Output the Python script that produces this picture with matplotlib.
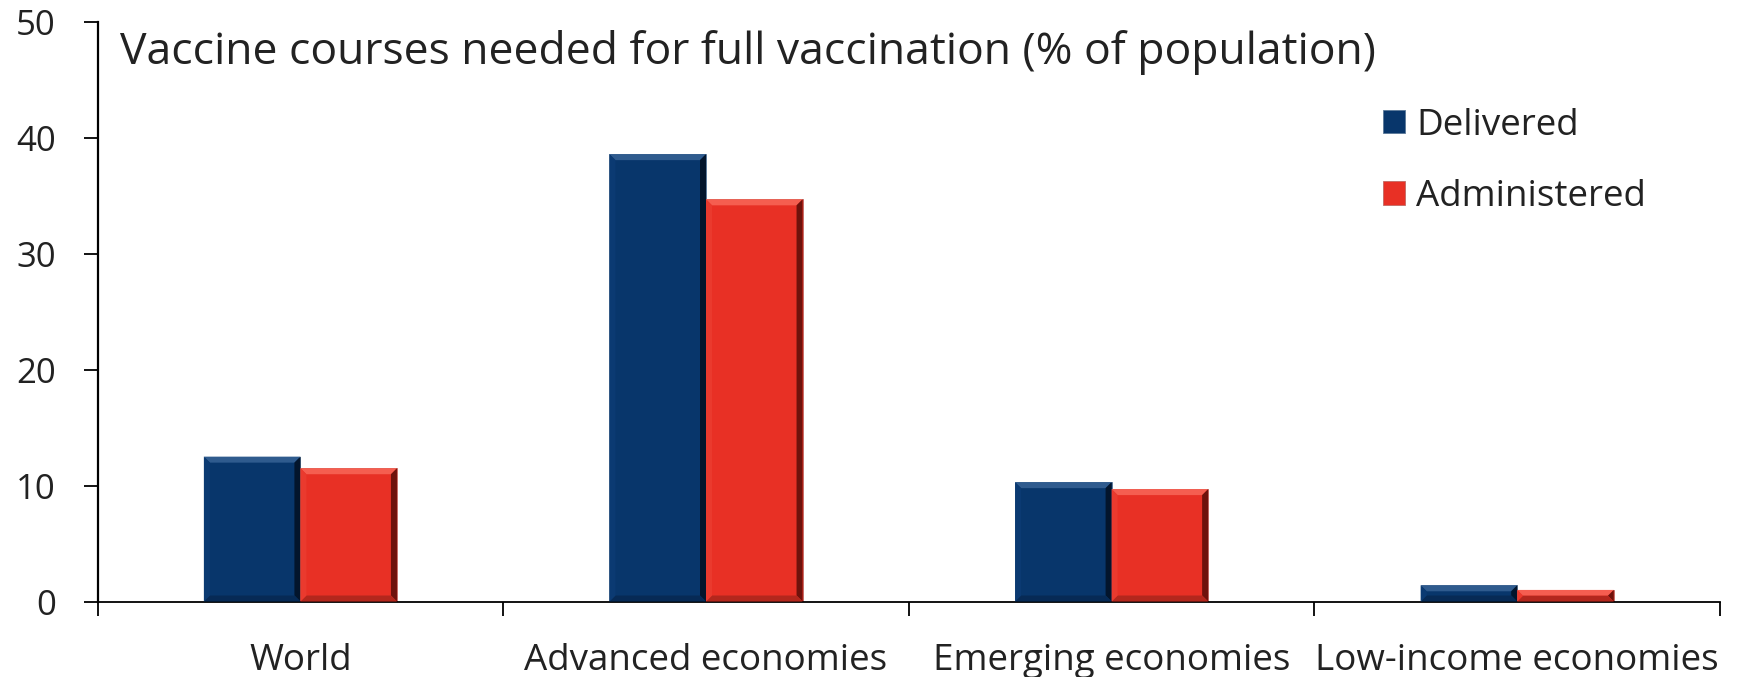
import matplotlib
matplotlib.use("Agg")
import matplotlib.pyplot as plt
import matplotlib.transforms as mtransforms
from matplotlib.patches import Polygon
import numpy as np

plt.rcParams['font.family'] = ['Open Sans', 'DejaVu Sans']

categories = ["World", "Advanced economies", "Emerging economies", "Low-income economies"]
delivered = [12.5, 38.6, 10.3, 1.4]
administered = [11.5, 34.7, 9.7, 1.0]
series_names = ["Delivered", "Administered"]
title = "Vaccine courses needed for full vaccination (% of population)"
yticks = [0, 10, 20, 30, 40, 50]

blue = "#08366B"
red = "#E83025"
text_color = "#222222"

fig = plt.figure(figsize=(17.4, 6.77), dpi=100)
ax = fig.add_axes([0.0561, 0.1115, 0.9324, 0.856])

x = np.arange(len(categories))
w = 0.238
b1 = ax.bar(x - w / 2, delivered, w, color=blue, edgecolor="#5a7898", linewidth=0.6,
            label=series_names[0], zorder=2)
b2 = ax.bar(x + w / 2, administered, w, color=red, edgecolor="#c06a64", linewidth=0.6,
            label=series_names[1], zorder=2)

ax.set_xlim(-0.5, len(categories) - 0.5)
ax.set_ylim(0, 50)
ax.set_yticks(yticks)
ax.set_yticklabels([str(v) for v in yticks], fontsize=25, color=text_color)

# category labels centred, boundary ticks between categories
ax.set_xticks(x)
ax.set_xticklabels(categories, fontsize=26.5, color=text_color)
ax.tick_params(axis="x", which="major", length=0, pad=30)
ax.set_xticks(np.arange(len(categories) + 1) - 0.5, minor=True)
ax.tick_params(axis="x", which="minor", length=10, width=1.3, direction="out")
ax.tick_params(axis="y", length=10, width=1.3, direction="out", pad=20)

for s in ["top", "right"]:
    ax.spines[s].set_visible(False)
ax.spines["left"].set_linewidth(1.6)
ax.spines["bottom"].set_linewidth(1.3)


def bevel(rect, base, light, dark, bottom, px=6):
    """Overlay a bevelled frame on a bar rectangle, sized in screen pixels."""
    fig.canvas.draw()
    x0, y0 = rect.get_x(), rect.get_y()
    x1, y1 = x0 + rect.get_width(), y0 + rect.get_height()
    (X0, Y0), (X1, Y1) = ax.transData.transform([(x0, y0), (x1, y1)])
    d = min(px, (X1 - X0) / 2, (Y1 - Y0) / 2)
    inv = ax.transData.inverted()
    outer = [(X0, Y0), (X1, Y0), (X1, Y1), (X0, Y1)]
    inner = [(X0 + d, Y0 + d), (X1 - d, Y0 + d), (X1 - d, Y1 - d), (X0 + d, Y1 - d)]
    faces = [
        ([outer[3], outer[2], inner[2], inner[3]], light),    # top
        ([outer[1], outer[2], inner[2], inner[1]], dark),     # right
        ([outer[0], outer[1], inner[1], inner[0]], bottom),   # bottom
        ([outer[0], outer[3], inner[3], inner[0]], base),     # left
    ]
    for pts, c in faces:
        ax.add_patch(Polygon(inv.transform(pts), closed=True, facecolor=c,
                             edgecolor="none", zorder=3))


for r in b1:
    bevel(r, "#0b3a72", "#2f5b8e", "#03152c", "#072a55")
for r in b2:
    bevel(r, "#ea3a2e", "#f55e50", "#6e120c", "#b3271d")

title_tf = mtransforms.blended_transform_factory(ax.transAxes, ax.transData)
ax.text(0.0138, 46.4, title, transform=title_tf, fontsize=32, color=text_color,
        ha="left", va="baseline")

leg = ax.legend(loc="upper left", bbox_to_anchor=(0.7925, 0.852), frameon=False,
                fontsize=26.5, handlelength=0.6, handleheight=0.6, handletextpad=0.3,
                labelspacing=0.96, borderaxespad=0, borderpad=0)
for t in leg.get_texts():
    t.set_color(text_color)

fig.savefig("out.png", dpi=100)
